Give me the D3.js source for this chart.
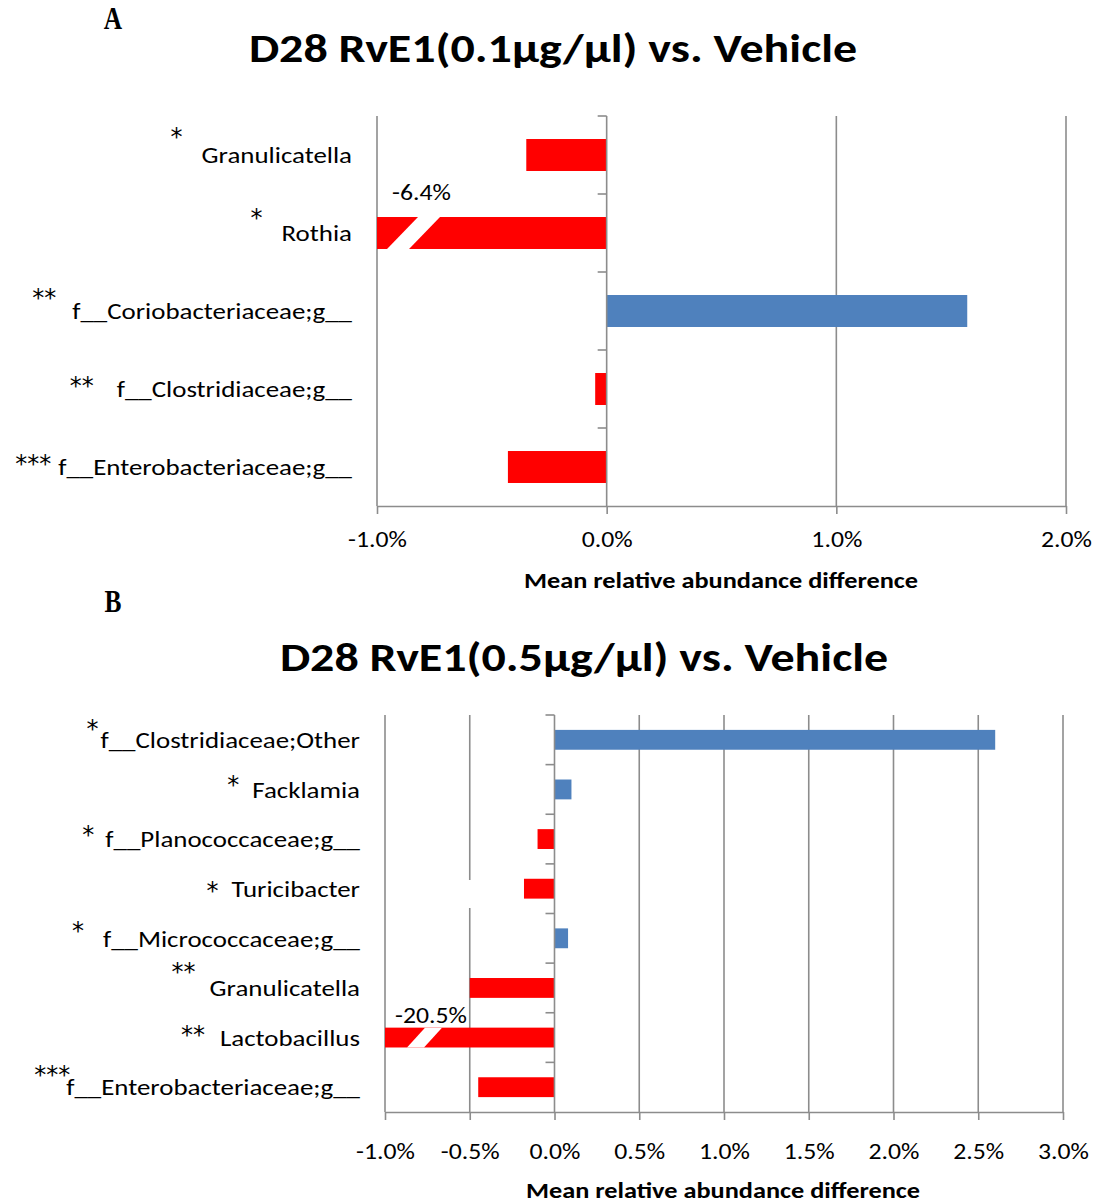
<!DOCTYPE html>
<html><head><meta charset="utf-8">
<script src="https://cdn.jsdelivr.net/npm/d3@7"></script>
<style>body{margin:0;background:#fff} svg{display:block}</style>
</head><body><svg id="c" width="1095" height="1204"></svg>
<script>
// ---------- data ----------
const titleA = "D28 RvE1(0.1µg/µl) vs. Vehicle";
const catsA = ["Granulicatella", "Rothia", "f__Coriobacteriaceae;g__", "f__Clostridiaceae;g__", "f__Enterobacteriaceae;g__"];
const starsA = ["*", "*", "**", "**", "***"];
const valsA = [-0.35, -6.4, 1.57, -0.05, -0.43];
const ticksA = [-1, 0, 1, 2];

const titleB = "D28 RvE1(0.5µg/µl) vs. Vehicle";
const catsB = ["f__Clostridiaceae;Other", "Facklamia", "f__Planococcaceae;g__", "Turicibacter", "f__Micrococcaceae;g__", "Granulicatella", "Lactobacillus", "f__Enterobacteriaceae;g__"];
const starsB = ["*", "*", "*", "*", "*", "**", "**", "***"];
const valsB = [2.6, 0.1, -0.1, -0.18, 0.08, -0.5, -20.5, -0.45];
const ticksB = [-1, -0.5, 0, 0.5, 1, 1.5, 2, 2.5, 3];

const axisTitle = "Mean relative abundance difference";

// ---------- layout / style ----------
const FONT = "Carlito, Calibri, Lato, 'Open Sans', sans-serif";
const STARFONT = "'DejaVu Sans', sans-serif";
const STARSIZE = 24;
const SX = 1.17;            // horizontal stretch of the text, as in the reference
const GRID = "#8c8c8c";
const RED = "#ff0000", BLUE = "#4f81bd";
// star placement relative to label start: [gap to label, vertical offset of glyph centre]
const starPosA = [[19, -23], [19, -20], [16, -18], [23, -8], [7, -8]];
const starPosB = [[2, -16], [13, -10], [11, -9], [13, -3], [19, -13], [14, -21], [15, -8], [-4, -17]];

const svg = d3.select("#c");
const fmt = d => (d < 0 ? "-" : "") + Math.abs(d).toFixed(1) + "%";

function stext(parent, x, y, str, o) {
  const t = parent.append("text")
    .attr("transform", `translate(${x},${y}) scale(${o.sx == null ? SX : o.sx},1)`)
    .attr("text-anchor", o.anchor || "start")
    .attr("font-family", o.family || FONT)
    .attr("font-size", o.size)
    .attr("font-weight", o.bold ? "bold" : "normal")
    .attr("fill", "#000")
    .text(str);
  if (o.dy) t.attr("dy", o.dy);
  return t;
}

function panel(cfg) {
  const g = svg.append("g");
  const x = d3.scaleLinear().domain(cfg.domain).range([cfg.x0, cfg.x1]);
  const y = d3.scaleBand().domain(cfg.cats).range([cfg.y0, cfg.y1])
    .paddingInner(cfg.pad).paddingOuter(cfg.pad / 2);

  stext(g, cfg.letterX, cfg.letterY, cfg.letter,
    { anchor: "middle", family: "'Liberation Serif', 'Times New Roman', serif", size: 31, bold: true, sx: 0.82 });
  stext(g, cfg.titleX, cfg.titleY, cfg.title, { anchor: "middle", size: 41, bold: true });

  // vertical gridlines
  g.append("g").selectAll("line").data(cfg.ticks.filter(t => t !== 0)).join("line")
    .attr("x1", d => x(d)).attr("x2", d => x(d)).attr("y1", cfg.y0).attr("y2", cfg.y1)
    .attr("stroke", GRID).attr("stroke-width", 1.6);

  if (cfg.gap) {
    g.append("rect").attr("x", x(cfg.gap[0]) - 4).attr("width", 8)
      .attr("y", cfg.gap[1]).attr("height", cfg.gap[2]).attr("fill", "#fff");
  }

  // x axis
  const xa = g.append("g").attr("transform", `translate(0,${cfg.y1})`)
    .call(d3.axisBottom(x).tickValues(cfg.ticks).tickFormat(fmt).tickSize(8).tickSizeOuter(0).tickPadding(cfg.tickPad));
  xa.select(".domain").attr("stroke", GRID).attr("stroke-width", 1.6);
  xa.selectAll(".tick line").attr("stroke", GRID).attr("stroke-width", 1.6);
  xa.selectAll(".tick text").attr("font-family", FONT).attr("font-size", 22).attr("fill", "#000")
    .attr("transform", `scale(${SX},1)`);

  stext(g, cfg.axTitleX, cfg.axTitleY, axisTitle, { anchor: "middle", size: 22.5, bold: true });

  // bars
  const data = cfg.cats.map((c, i) => ({ c, v: cfg.vals[i], s: cfg.stars[i], sp: cfg.starPos[i] }));
  const lo = cfg.domain[0];
  g.append("g").selectAll("rect").data(data).join("rect")
    .attr("x", d => x(Math.min(0, Math.max(d.v, lo))))
    .attr("width", d => Math.abs(x(Math.max(d.v, lo)) - x(0)))
    .attr("y", d => y(d.c)).attr("height", y.bandwidth())
    .attr("fill", d => d.v < 0 ? RED : BLUE);

  // break marks and value labels for bars cut at the axis minimum
  data.filter(d => d.v < lo).forEach(d => {
    const bx = x(lo), top = y(d.c), bot = top + y.bandwidth();
    const [ob, ot, w] = cfg.brk;
    g.append("polygon")
      .attr("points", [[bx + ob, bot], [bx + ob + w, bot], [bx + ot + w, top], [bx + ot, top]].map(p => p.join(",")).join(" "))
      .attr("fill", "#fff");
    stext(g, bx + cfg.valLab[0], top + cfg.valLab[1], fmt(d.v), { size: 22 });
  });

  // zero axis + category ticks
  g.append("line").attr("x1", x(0)).attr("x2", x(0)).attr("y1", cfg.y0).attr("y2", cfg.y1)
    .attr("stroke", GRID).attr("stroke-width", 1.6);
  g.append("g").selectAll("line").data(d3.range(cfg.cats.length)).join("line")
    .attr("x1", x(0) - 9).attr("x2", x(0))
    .attr("y1", i => cfg.y0 + i * y.step()).attr("y2", i => cfg.y0 + i * y.step())
    .attr("stroke", GRID).attr("stroke-width", 1.6);

  // category labels + significance stars
  data.forEach(d => {
    const cy = y(d.c) + y.bandwidth() / 2;
    const t = stext(g, cfg.labX, cy, d.c, { anchor: "end", size: 23, dy: "0.36em" });
    const len = t.node().getComputedTextLength() * SX;
    stext(g, cfg.labX - len - d.sp[0], cy + d.sp[1] + 0.55 * STARSIZE, d.s,
      { anchor: "end", size: STARSIZE, family: STARFONT, sx: 1 });
  });
}

panel({
  letter: "A", letterX: 113, letterY: 29,
  title: titleA, titleX: 553, titleY: 62,
  cats: catsA, vals: valsA, stars: starsA, starPos: starPosA, ticks: ticksA,
  domain: [-1, 2], x0: 377, x1: 1066, y0: 116, y1: 506, pad: 0.59,
  tickPad: 17, axTitleX: 721, axTitleY: 588,
  labX: 352,
  brk: [10, 41, 22], valLab: [15, -17]
});

panel({
  letter: "B", letterX: 113, letterY: 612,
  title: titleB, titleX: 584, titleY: 671,
  cats: catsB, vals: valsB, stars: starsB, starPos: starPosB, ticks: ticksB,
  domain: [-1, 3], x0: 385, x1: 1063, y0: 715, y1: 1112, pad: 0.6,
  tickPad: 23, axTitleX: 723, axTitleY: 1198,
  labX: 360,
  brk: [22, 40, 17], valLab: [10, -5],
  gap: [-0.5, 880, 28]
});
</script></body></html>
